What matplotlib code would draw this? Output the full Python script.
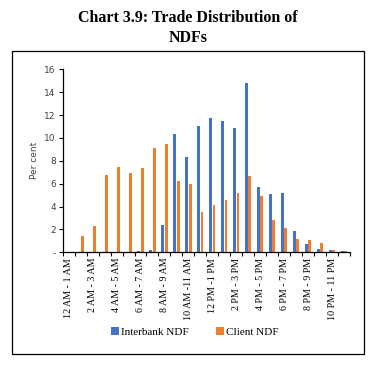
import numpy as np
import matplotlib
matplotlib.use('Agg')
import matplotlib.pyplot as plt
from matplotlib.patches import Rectangle

hours = ['12 AM - 1 AM', '1 AM - 2 AM', '2 AM - 3 AM', '3 AM - 4 AM', '4 AM - 5 AM',
         '5 AM - 6 AM', '6 AM - 7 AM', '7 AM - 8 AM', '8 AM - 9 AM', '9 AM - 10 AM',
         '10 AM -11 AM', '11 AM - 12 PM', '12 PM -1 PM', '1 PM - 2 PM', '2 PM - 3 PM',
         '3 PM - 4 PM', '4 PM - 5 PM', '5 PM - 6 PM', '6 PM - 7 PM', '7 PM - 8 PM',
         '8 PM - 9 PM', '9 PM - 10 PM', '10 PM - 11 PM', '11 PM - 12 AM']
interbank = [0.05, 0.05, 0.02, 0.03, 0.03, 0.03, 0.1, 0.2, 2.4, 10.3, 8.3, 11.0,
             11.7, 11.5, 10.9, 14.8, 5.7, 5.1, 5.2, 1.9, 0.7, 0.3, 0.2, 0.1]
client = [0.06, 1.4, 2.3, 6.8, 7.5, 6.9, 7.4, 9.1, 9.5, 6.2, 6.0, 3.5,
          4.1, 4.6, 5.2, 6.7, 4.9, 2.8, 2.1, 1.2, 1.1, 0.8, 0.2, 0.1]
yticks = [0, 2, 4, 6, 8, 10, 12, 14, 16]
ytick_labels = ['-', '2', '4', '6', '8', '10', '12', '14', '16']

serif = 'Liberation Serif'

fig = plt.figure(figsize=(3.73, 3.65), dpi=100)
ax = fig.add_axes([62.7 / 373, 1 - 252.3 / 365, (350 - 62.7) / 373, (252.3 - 69.3) / 365])

x = np.arange(len(hours))
w = 0.24
ax.bar(x - 0.14, interbank, w, color='#4472C4', label='Interbank NDF')
ax.bar(x + 0.14, client, w, color='#ED7D31', label='Client NDF')

ax.set_xlim(-0.5, len(hours) - 0.5)
ax.set_ylim(0, 16)
ax.set_yticks(yticks)
ax.set_yticklabels(ytick_labels, fontsize=6.5, color='#404040')
ax.set_ylabel('Per cent', fontsize=6.5, color='#404040', labelpad=4)

ax.set_xticks(x[::2])
ax.set_xticklabels(hours[::2], rotation=90, fontsize=7.2, family=serif)
ax.set_xticks(np.arange(-0.5, len(hours), 1), minor=True)
ax.tick_params(axis='x', which='major', length=0, pad=4)
ax.tick_params(axis='x', which='minor', length=3, direction='out', width=0.8)
ax.tick_params(axis='y', length=3, width=0.8, pad=2)

for s in ['top', 'right']:
    ax.spines[s].set_visible(False)
for s in ['left', 'bottom']:
    ax.spines[s].set_linewidth(0.9)

# legend below the plot, inside the frame
fig.legend(loc='center', bbox_to_anchor=(195 / 373, 1 - 332 / 365), ncol=2,
           frameon=False, prop={'family': serif, 'size': 8}, handlelength=0.7,
           handleheight=0.7, handletextpad=0.2, columnspacing=2.4)

fig.text(188 / 373, 1 - 18 / 365, 'Chart 3.9: Trade Distribution of', ha='center', va='center',
         fontsize=11.5, fontweight='bold', family=serif)
fig.text(188 / 373, 1 - 38 / 365, 'NDFs', ha='center', va='center',
         fontsize=11.5, fontweight='bold', family=serif)

fig.patches.append(Rectangle((12 / 373, 1 - 354 / 365), (364 - 12) / 373, (354 - 51) / 365,
                             transform=fig.transFigure, fill=False, edgecolor='black', linewidth=0.9))

fig.savefig('out.png', dpi=100)
